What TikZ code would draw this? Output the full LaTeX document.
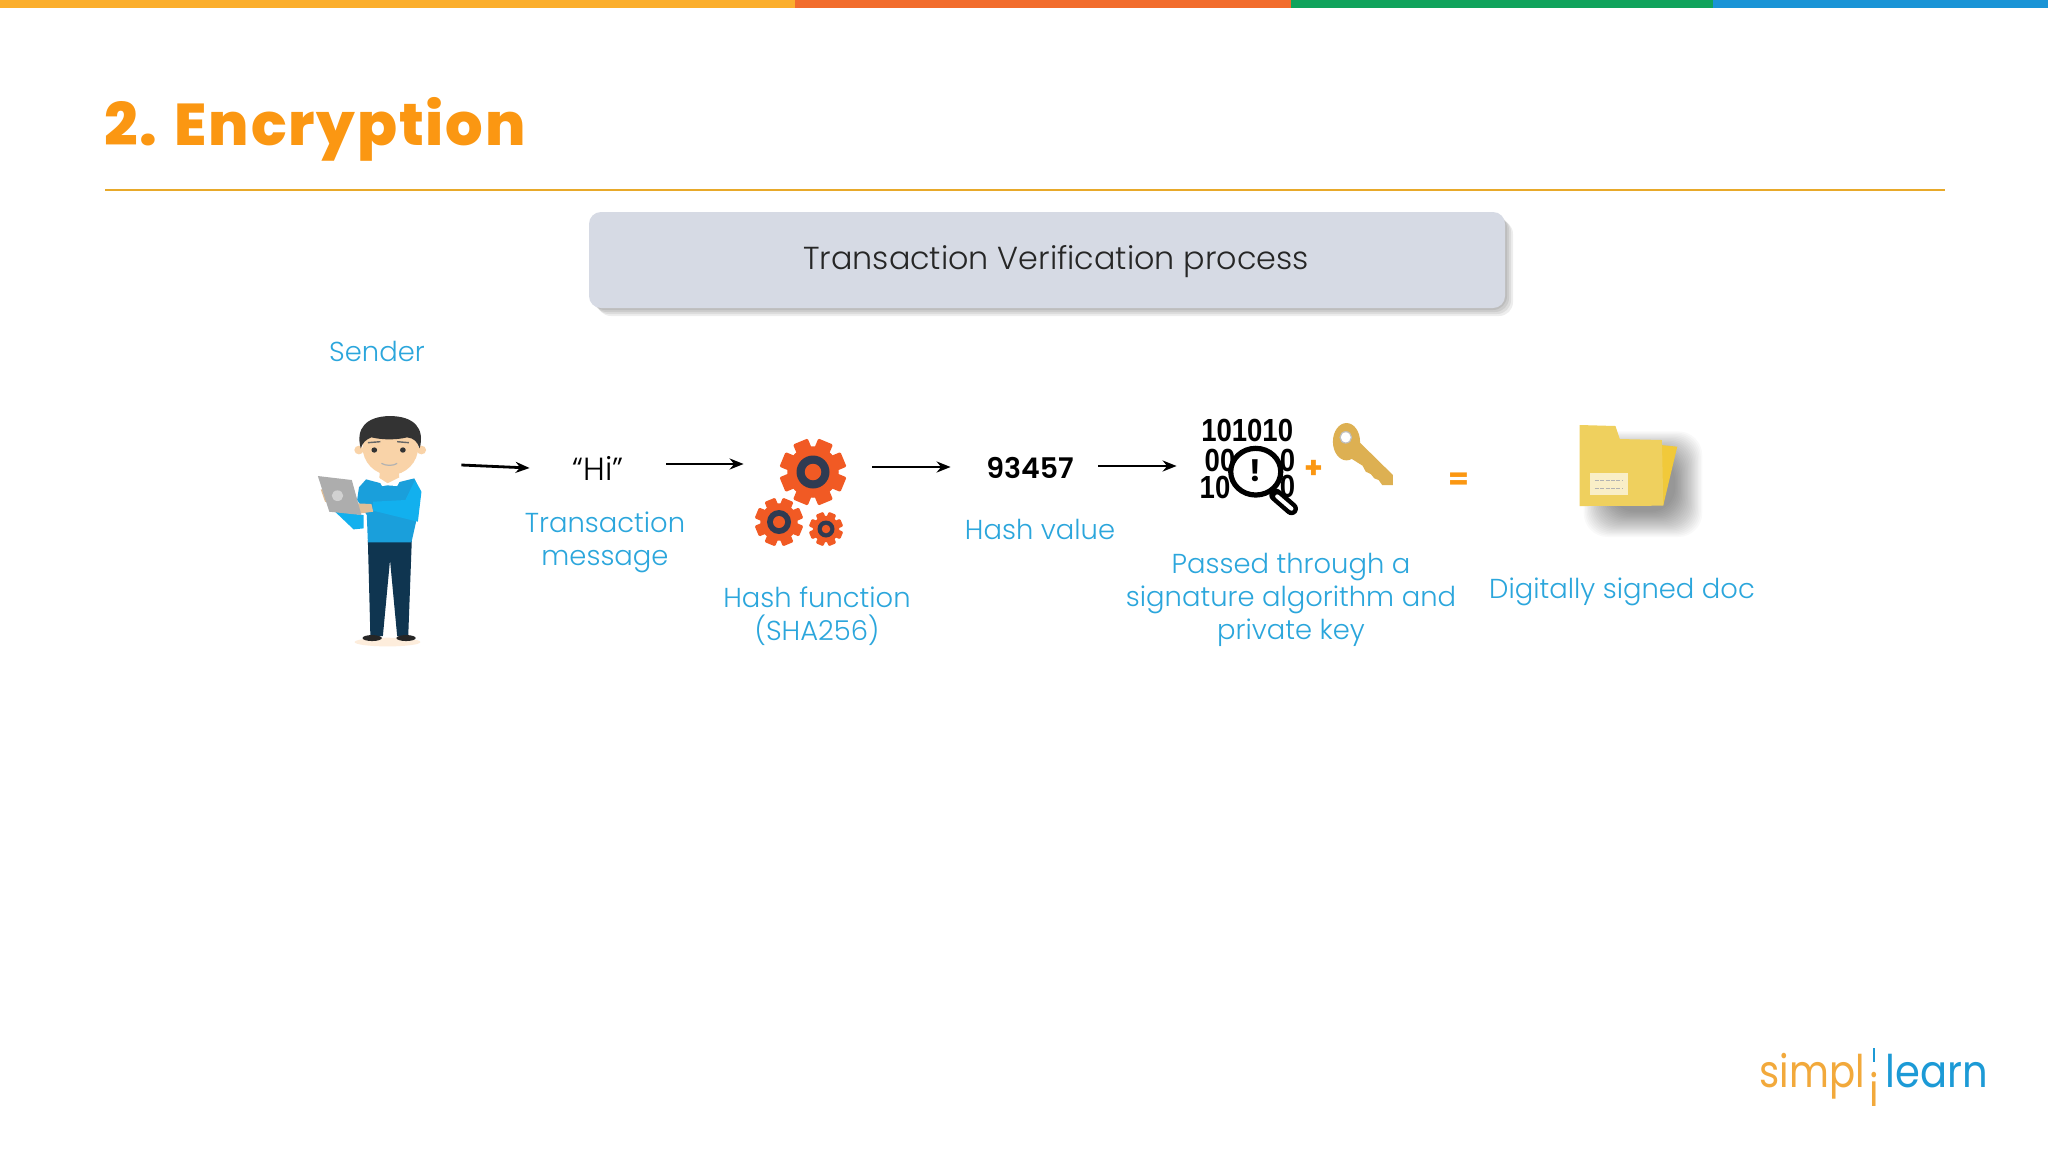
\documentclass[tikz,border=0pt]{standalone}
\usepackage{graphicx}
\usepackage{fontspec}
\usetikzlibrary{arrows.meta}
\setmainfont{Poppins}
\newfontfamily\labfont{Poppins Light}
\newfontfamily\logofont{Poppins}
\newfontfamily\headfont{Poppins}[UprightFont=* Bold]
\newfontfamily\titlefont{Poppins ExtraBold}[LetterSpace=3]
\newfontfamily\numfont{Poppins}[UprightFont=* SemiBold]
\newfontfamily\digitfont{Liberation Sans}[UprightFont=* Bold]
\definecolor{barA}{HTML}{FBAE2C}
\definecolor{barB}{HTML}{F26C2C}
\definecolor{barC}{HTML}{10A35C}
\definecolor{barD}{HTML}{1A94D6}
\definecolor{titleC}{HTML}{FB9712}
\definecolor{ruleC}{HTML}{E8A92A}
\definecolor{boxC}{HTML}{D6DAE4}
\definecolor{labC}{HTML}{2BA6DC}
\definecolor{gearC}{HTML}{F15A24}
\definecolor{gearD}{HTML}{2F3B52}
\definecolor{keyC}{HTML}{DDB052}
\definecolor{folderA}{HTML}{EFD05E}
\definecolor{folderB}{HTML}{F1C93A}
\definecolor{skin}{HTML}{F9D3A8}
\definecolor{sweatA}{HTML}{1A9FDB}
\definecolor{sweatB}{HTML}{12B0EE}
\definecolor{pants}{HTML}{0F3550}
\definecolor{logoO}{HTML}{F2A93B}
\definecolor{logoB}{HTML}{1C9AD6}
\newcommand{\gearicon}[4]{% x y r(outer) unused
  \begin{scope}[shift={(#1,#2)}]
    \fill[gearC] (0,0) circle[radius=#3*0.78];
    \foreach \a in {0,45,...,315}
      \fill[gearC,rotate=\a+22.5,rounded corners=0.6pt] (-#3*0.24,#3*0.6) rectangle (#3*0.24,#3);
    \fill[gearD] (0,0) circle[radius=#3*0.5];
    \fill[gearC] (0,0) circle[radius=#3*0.25];
  \end{scope}}
\tikzset{
  lab/.style={font=\labfont\fontsize{13.7}{16.5}\selectfont,text=labC,align=center,inner sep=0pt},
  flow/.style={-{Stealth[length=7pt,width=5.5pt]},line width=1.4pt,black},
  slot/.style={minimum width=#1,inner sep=0pt},
  bit/.style={font=\digitfont\fontsize{16}{16}\selectfont,text=black,inner sep=0pt},
  sym/.style={font=\headfont\fontsize{15}{15}\selectfont,inner sep=0pt},
  logotxt/.style={inner sep=0pt,font=\logofont\fontsize{22.5}{25}\selectfont},
}
\begin{document}
\begin{tikzpicture}[x=0.5pt,y=-0.5pt]
\useasboundingbox (0,0) rectangle (2048,1152);
\fill[white] (0,0) rectangle (2048,1152);
% top bar
\fill[barA] (0,0) rectangle (795,8);
\fill[barB] (795,0) rectangle (1291,8);
\fill[barC] (1291,0) rectangle (1713,8);
\fill[barD] (1713,0) rectangle (2048,8);
% title
\node[anchor=base west,inner sep=0pt,text=titleC,font=\titlefont\fontsize{29.5}{30}\selectfont] (title) at (104,145) {2. Encryption};
\draw[ruleC,line width=1pt] (105,190) -- (1945,190);
% header box
\foreach \g in {8,6,4,2}
  \fill[black,opacity=0.07,rounded corners=7pt] (589+\g,212+\g) rectangle (1505+\g,308+\g);
\node[fill=boxC,rounded corners=6pt,minimum width=458pt,minimum height=48pt,inner sep=0pt] (head) at (1047,260) {};
\node[inner sep=0pt,font=\labfont\fontsize{15.9}{18}\selectfont,text=black!85] (headtxt) at (1056,262) {Transaction Verification process};
% labels
\node[lab] (sender) at (377,351) {Sender};
\node[lab] (msg) at (605,542) {Transaction\\message};
\node[lab] (func) at (817,616) {Hash function\\(SHA256)};
\node[lab] (val) at (1040,529) {Hash value};
\node[lab] (algo) at (1291,600) {Passed through a\\signature algorithm and\\private key};
\node[lab] (doc) at (1622,592) {Digitally signed doc};
% anchors of the flow
\node[slot=58pt,minimum height=118pt] (person) at (375,530) {};
\node[slot=30pt,font=\labfont\fontsize{16}{16}\selectfont,text=black] (hi) at (598,468) {“Hi”};
\node[slot=48pt,minimum height=56pt] (gears) at (802,492) {};
\node[slot=50pt,font=\numfont\fontsize{14.2}{16}\selectfont,text=black] (hash) at (1030,468) {93457};
\node[slot=50pt,minimum height=50pt] (sig) at (1250,466) {};
\draw[flow] ([shift={(28,-65)}]person.east) -- ([shift={(-38,0)}]hi.west);
\draw[flow] ([shift={(38,-4)}]hi.east) -- ([shift={(-10,-28)}]gears.west);
\draw[flow] ([shift={(22,-25)}]gears.east) -- ([shift={(-29,-1)}]hash.west);
\draw[flow] ([shift={(18,-2)}]hash.east) -- ([shift={(-23,0)}]sig.west);
% gears
\gearicon{813}{472}{33}{1}
\gearicon{779}{522}{24}{1}
\gearicon{826}{529}{17}{1}
% person (coordinates in zoomed crop)
\begin{scope}[shift={(300,400)},x=0.1786pt,y=-0.1667pt]
  \fill[skin!40] (245,726) ellipse[x radius=92,y radius=13];
  \fill[pants] (190,420) -- (313,420) -- (303,708) -- (272,708) -- (252,480) -- (232,708) -- (197,708) -- cycle;
  \fill[black!85] (202,714) ellipse[x radius=27,y radius=9];
  \fill[black!85] (297,714) ellipse[x radius=27,y radius=9];
  \fill[sweatB] (98,335) -- (178,345) -- (178,385) -- (150,388) -- cycle;
  \fill[sweatA] (185,238) -- (245,255) -- (320,235) -- (338,280) -- (325,365) -- (312,427) -- (190,427) -- (187,345) -- (160,300) -- (165,262) -- cycle;
  \fill[sweatB] (322,240) -- (340,275) -- (330,365) -- (205,332) -- (205,305) -- (295,300) -- cycle;
  \fill[skin] (225,195) -- (275,195) -- (278,235) -- (245,252) -- (222,235) -- cycle;
  \fill[white] (213,228) -- (245,250) -- (287,228) -- (272,258) -- (245,256) -- (230,258) -- cycle;
  \fill[skin] (165,150) circle[radius=13];
  \fill[skin] (340,150) circle[radius=13];
  \fill[skin] (253,140) ellipse[x radius=78,y radius=85];
  \fill[black!80] (170,145) .. controls (155,85) and (185,50) .. (250,48)
     .. controls (320,48) and (350,85) .. (335,145)
     .. controls (328,125) and (320,115) .. (300,112)
     .. controls (270,120) and (230,120) .. (200,112)
     .. controls (185,118) and (175,128) .. (170,145) -- cycle;
  \fill[black!80] (208,150) circle[radius=8];
  \fill[black!80] (288,150) circle[radius=8];
  \draw[black!60,line width=.7pt] (190,128) -- (225,125) (272,125) -- (305,128);
  \draw[black!30,line width=.6pt] (228,190) .. controls (240,198) and (262,198) .. (272,190);
  \fill[skin!90!black] (160,310) -- (200,312) -- (205,335) -- (170,340) -- cycle;
  \fill[skin!90!black] (58,268) -- (85,270) -- (90,310) -- (70,305) -- cycle;
  \fill[black!32] (50,228) -- (145,240) -- (172,345) -- (82,335) -- cycle;
  \fill[black!18] (105,287) circle[radius=16];
\end{scope}
% signature icon, key, folder (coordinates in zoomed crop)
\begin{scope}[shift={(1150,400)},x=0.1786pt,y=-0.1667pt]
  \node[bit] (bitsA) at (272,92) {\scalebox{.86}[1]{101010}};
  \node[bit] (bitsB) at (196,180) {\scalebox{.86}[1]{00}};
  \node[bit] (bitsC) at (182,262) {\scalebox{.86}[1]{10}};
  \node[bit] (bitsD) at (385,180) {\scalebox{.86}[1]{0}};
  \node[bit] (bitsE) at (385,258) {\scalebox{.86}[1]{0}};
  \draw[black,line width=6.5pt,line cap=round] (352,285) -- (396,326);
  \draw[white,line width=2pt,line cap=round] (356,289) -- (396,326);
  \draw[black,line width=2.6pt,fill=white] (296,215) ellipse[x radius=70,y radius=70];
  \node[sym,text=black] (bang) at (296,212) {!};
  % plus, equals
  \node[sym,text=titleC] (plus) at (460,208) {+};
  \node[sym,text=titleC] (equals) at (866,245) {=};
  % key
  \fill[keyC] (585,125) -- (680,225) -- (680,255) -- (650,255) -- (640,240) -- (628,235) -- (618,222) -- (604,215) -- (595,197) -- (555,170) -- cycle;
  \fill[keyC] (550,125) ellipse[x radius=38,y radius=56];
  \draw[black!25,fill=white,line width=.6pt] (548,112) ellipse[x radius=16,y radius=17];
  % folder shadow
  \foreach \g in {76,72,...,0}
    \fill[black,opacity=0.022,rounded corners=12pt] (1290-\g,170-\g) rectangle (1470+\g,335+\g);
  \fill[folderB] (1430,135) -- (1476,140) -- (1437,315) -- (1430,315) -- cycle;
  \fill[folderA] (1203,75) -- (1303,78) -- (1315,117) -- (1433,120) -- (1437,317) -- (1203,318) -- cycle;
  \fill[white!65!folderA] (1233,220) rectangle (1337,285);
  \draw[black!30,line width=.5pt,dash pattern=on 2pt off .7pt] (1245,240) -- (1322,240) (1245,265) -- (1322,265);
\end{scope}
% logo
\node[anchor=base west,logotxt,text=logoO] (logoA) at (1759,1087) {\scalebox{.86}[1]{simpl}};
\node[anchor=base,logotxt,text=logoO] (logoI) at (1874,1106) {\scalebox{.86}[1]{i}};
\node[anchor=base west,logotxt,text=logoB] (logoC) at (1885,1087) {\scalebox{.89}[1]{learn}};
\draw[logoB,line width=1pt] (1874,1048) -- (1874,1062);
\end{tikzpicture}
\end{document}
